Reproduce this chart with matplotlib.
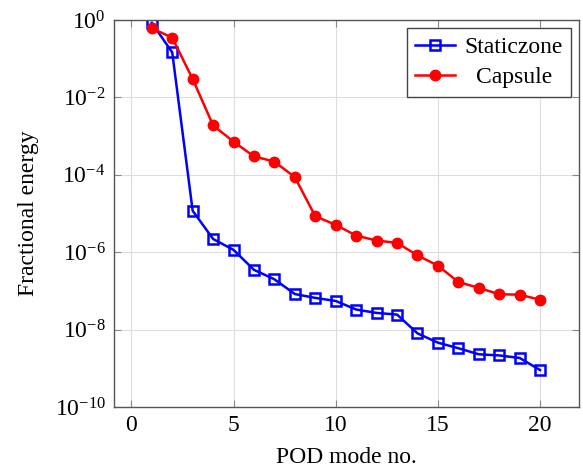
""" POD mode fractional energy for the two regions, log scale. """

import matplotlib.pyplot as plt
import numpy as np

plt.rcParams['font.family'] = ['Liberation Serif', 'DejaVu Serif']
plt.rcParams['mathtext.fontset'] = 'stix'

# Mode numbers
modes = np.arange(1, 21)

# Fractional energy
staticzone = [0.85, 0.146, 1.18e-5, 2.2e-6, 1.15e-6, 3.5e-7, 2.0e-7, 8.3e-8, 6.6e-8, 5.5e-8,
              3.3e-8, 2.7e-8, 2.45e-8, 8.0e-9, 4.6e-9, 3.3e-9, 2.3e-9, 2.15e-9, 1.85e-9, 9.0e-10]
capsule = [0.62, 0.35, 0.030, 1.9e-3, 7.2e-4, 3.0e-4, 2.2e-4, 8.7e-5, 8.5e-6, 5.1e-6,
           2.7e-6, 2.0e-6, 1.75e-6, 8.3e-7, 4.5e-7, 1.7e-7, 1.2e-7, 8.2e-8, 8.0e-8, 5.9e-8]

xticks = [0, 5, 10, 15, 20]
yticks = [1e0, 1e-2, 1e-4, 1e-6, 1e-8, 1e-10]

fig = plt.figure(figsize=(5.83, 4.67), dpi=100)
ax = fig.add_axes([0.1955, 0.1285, 0.7975, 0.8285])

ax.plot(modes, staticzone, color='#0000ff', lw=1.8, marker='s', ms=7.5,
        mfc='none', mew=1.8, label='Staticzone')
ax.plot(modes, capsule, color='#ff0000', lw=1.8, marker='o', ms=7.5,
        label='Capsule')

ax.set_yscale('log')
ax.set_ylim(1e-10, 1e0)
ax.set_xlim(-0.85, 21.9)
ax.set_xticks(xticks)
ax.set_yticks(yticks)
ax.minorticks_off()

ax.grid(True, color='#dddddd', lw=0.8)
ax.set_axisbelow(True)
for s in ax.spines.values():
    s.set_color('#555555')
    s.set_linewidth(1.0)
ax.tick_params(direction='in', length=5, color='#888888', labelsize=17, pad=6,
               top=True, right=True)

ax.set_xlabel('POD mode no.', fontsize=17, labelpad=8)
ax.set_ylabel('Fractional energy', fontsize=17, labelpad=11)

leg = ax.legend(loc='upper right', fontsize=17, fancybox=False, framealpha=1,
                edgecolor='#444444', handlelength=1.7, borderpad=0.35,
                labelspacing=0.38, handletextpad=0.4, borderaxespad=0,
                bbox_to_anchor=(0.984, 0.979))
leg.get_frame().set_linewidth(1.0)

# Centre the shorter legend entry like the original
fig.canvas.draw()
texts = leg.get_texts()
widths = [t.get_window_extent().width for t in texts]
for t, w in zip(texts, widths):
    t.set_position(((max(widths) - w) / 2, 0))

fig.savefig('out.png', dpi=100)
